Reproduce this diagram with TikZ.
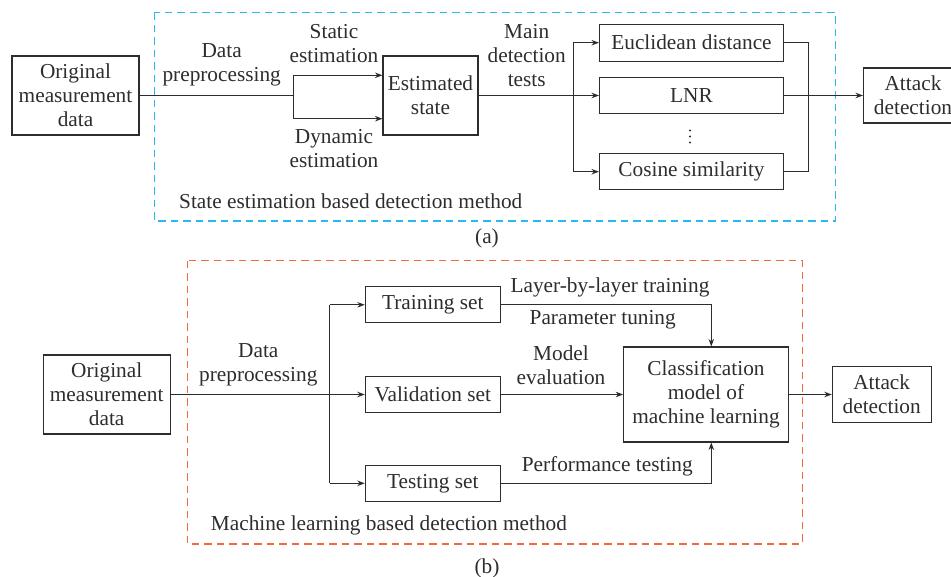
\documentclass[tikz,border=0pt]{standalone}
\usepackage{fontspec}
\setmainfont{Liberation Serif}
\usetikzlibrary{arrows.meta}

\definecolor{linec}{RGB}{45,45,45}
\definecolor{frameblue}{RGB}{40,185,240}
\definecolor{frameorange}{RGB}{245,105,65}

\tikzset{
  every node/.style={font=\fontsize{21.3}{24}\selectfont, text=linec},
  blockbox/.style={draw=linec, line width=1.05pt, align=center, inner sep=0pt},
  lbl/.style={align=center, inner sep=0pt},
  wire/.style={draw=linec, line width=1.05pt},
  arr/.style={wire, -{Stealth[length=7.5pt,width=5.5pt]}},
  frame/.style={line width=1.3pt, dash pattern=on 7.5pt off 5pt},
  dotmark/.style={fill=linec, draw=none}
}

\begin{document}
\begin{tikzpicture}[x=1pt, y=-1pt]
\useasboundingbox (0,0) rectangle (951,577);
\clip (0,0) rectangle (951,577);

% ---------- (a) state estimation based detection ----------
\draw[frame, draw=frameblue] (154.3,12.3) rectangle (835.7,221);

\node[blockbox, minimum width=127pt, minimum height=79pt] (origA) at (75.5,95.5)
  {Original\\measurement\\data};
\node[blockbox, minimum width=95pt, minimum height=79pt] (est) at (430.5,95.5)
  {Estimated\\state};
\node[blockbox, minimum width=184pt, minimum height=37pt] (eucl) at (691.5,42.7)
  {Euclidean distance};
\node[blockbox, minimum width=184pt, minimum height=36pt] (lnr) at (691.5,95.5)
  {LNR};
\node[blockbox, minimum width=184pt, minimum height=36pt] (cos) at (691.5,171.7)
  {Cosine similarity};
\node[blockbox, minimum width=99pt, minimum height=55pt] (attA) at (913,95.5)
  {Attack\\detection};

% vertical ellipsis between the test boxes
\fill[dotmark] (690,130.5) circle (1.2pt);
\fill[dotmark] (690,136.5) circle (1.2pt);
\fill[dotmark] (690,142.5) circle (1.2pt);

\node[lbl] (prepA) at (221.7,65) {Data\\preprocessing};
\node[lbl] (stat) at (334,43.3) {Static\\estimation};
\node[lbl] (dyn) at (334,149) {Dynamic\\estimation};
\node[lbl] (tests) at (526.7,55.3) {Main\\detection\\tests};
\node[lbl, anchor=west] (methA) at (179,201.7) {State estimation based detection method};
\node[lbl] (capA) at (487,238) {(a)};

\coordinate (sA) at (293.3,95.5);
\coordinate (sA1) at (293.3,75.3);
\coordinate (sA2) at (293.3,118.7);
\draw[wire] (origA.east) -- (sA);
\draw[wire] (sA1) -- (sA2);
\draw[arr] (sA1) -- (sA1 -| est.west);
\draw[arr] (sA2) -- (sA2 -| est.west);

\coordinate (tA1) at (573.3,42.7);
\coordinate (tA2) at (573.3,171.7);
\draw[arr] (est.east) -- (lnr.west);
\draw[wire] (tA1) -- (tA2);
\draw[arr] (tA1) -- (eucl.west);
\draw[arr] (tA2) -- (cos.west);

\coordinate (mA1) at (808.3,42.7);
\coordinate (mA2) at (808.3,171.7);
\draw[wire] (eucl.east) -- (mA1) -- (mA2) -- (cos.east);
\draw[arr] (lnr.east) -- (attA.west);

% ---------- (b) machine learning based detection ----------
\draw[frame, draw=frameorange] (187.7,260.7) rectangle (802.3,544);

\node[blockbox, minimum width=127pt, minimum height=79pt] (origB) at (106.7,394.5)
  {Original\\measurement\\data};
\node[blockbox, minimum width=135pt, minimum height=36pt] (train) at (432.8,304.8)
  {Training set};
\node[blockbox, minimum width=135pt, minimum height=36pt] (valid) at (432.8,394.5)
  {Validation set};
\node[blockbox, minimum width=135pt, minimum height=36pt] (test) at (432.8,483.3)
  {Testing set};
\node[blockbox, minimum width=164.6pt, minimum height=95pt] (cls) at (706,394.5)
  {Classification\\model of\\machine learning};
\node[blockbox, minimum width=98.7pt, minimum height=56pt] (attB) at (881.7,394.5)
  {Attack\\detection};

\node[lbl] (prepB) at (258.3,364.7) {Data\\preprocessing};
\node[lbl] (layer) at (610,287.7) {Layer-by-layer training};
\node[lbl] (tune) at (602.7,320) {Parameter tuning};
\node[lbl] (evalB) at (561,365) {Model\\evaluation};
\node[lbl] (perf) at (607.3,466.7) {Performance testing};
\node[lbl, anchor=west] (methB) at (210.7,525.3) {Machine learning based detection method};
\node[lbl] (capB) at (487,568) {(b)};

\coordinate (sB1) at (329.7,304.8);
\coordinate (sB2) at (329.7,483.3);
\draw[arr] (origB.east) -- (valid.west);
\draw[wire] (sB1) -- (sB2);
\draw[arr] (sB1) -- (train.west);
\draw[arr] (sB2) -- (test.west);

\coordinate (cT) at (711.3,304.8);
\coordinate (cB) at (711.3,483.3);
\draw[arr] (train.east) -- (cT) -- (cT |- cls.north);
\draw[arr] (test.east) -- (cB) -- (cB |- cls.south);
\draw[arr] (valid.east) -- (cls.west);
\draw[arr] (cls.east) -- (attB.west);
\end{tikzpicture}
\end{document}
